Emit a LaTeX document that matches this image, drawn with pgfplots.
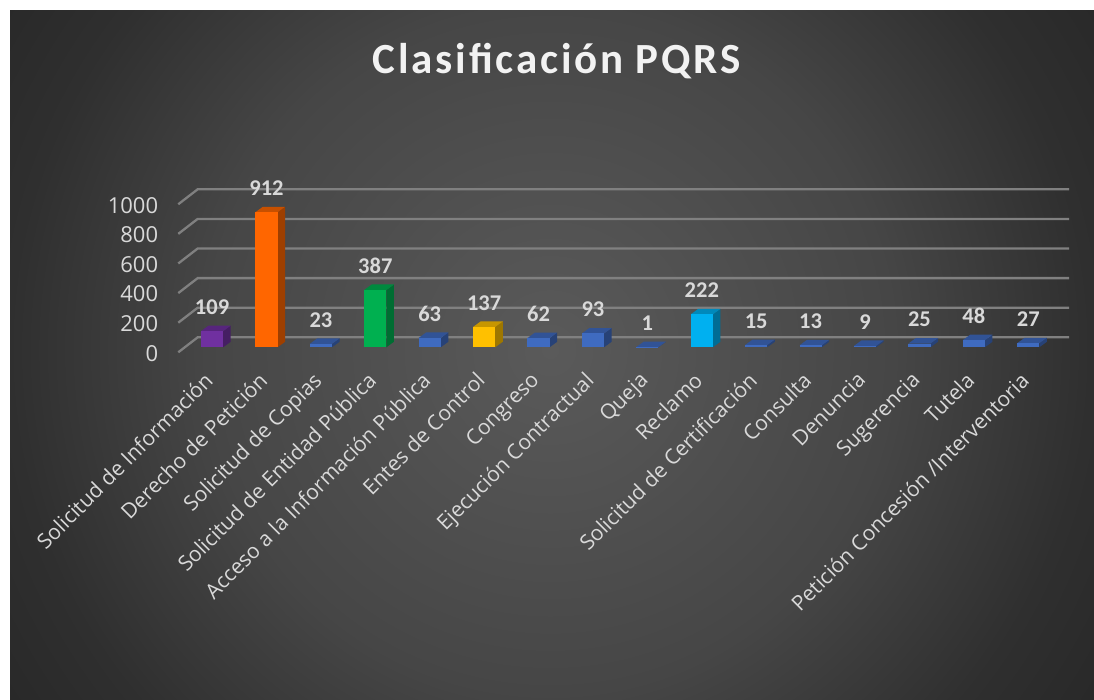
\documentclass[border=0pt]{standalone}
\usepackage{fontspec}
\setmainfont{Carlito}
\newfontfamily\ejes{Open Sans}
\usepackage{pgfplots}
\pgfplotsset{compat=1.18}

\definecolor{morado}{HTML}{7030A0}
\definecolor{naranja}{HTML}{FF6600}
\definecolor{azul}{HTML}{3F6BC0}
\definecolor{verde}{HTML}{00B050}
\definecolor{amarillo}{HTML}{FFC000}
\definecolor{celeste}{HTML}{00B0F0}
\definecolor{rejilla}{HTML}{808080}
\definecolor{texto}{HTML}{D9D9D9}
\definecolor{centro}{HTML}{5A5A5A}
\definecolor{medio}{HTML}{464646}
\definecolor{oscuro}{HTML}{2F2F2F}
\definecolor{borde}{HTML}{282828}

% the path's half side is 25bp of the shading
\pgfdeclareradialshading{fondo}{\pgfpoint{0bp}{0bp}}{%
  color(0bp)=(centro); color(13bp)=(medio); color(20.5bp)=(oscuro); color(25bp)=(borde); color(50bp)=(borde)}

% x, value, colour
\newcommand{\caja}[3]{%
  \pgfmathsetmacro\xl{#1-0.204}%
  \pgfmathsetmacro\xr{#1+0.204}%
  \pgfmathsetmacro\xb{#1+0.342}%
  \pgfmathsetmacro\xc{#1-0.066}%
  \pgfmathsetmacro\yt{#2+37}%
  \pgfmathsetmacro\yf{37}%
  \edef\tmp{%
    \noexpand\addplot[fill=#3!62!black, draw=none] coordinates {(\xr,0)(\xb,\yf)(\xb,\yt)(\xr,#2)};
    \noexpand\addplot[fill=#3!78!black, draw=none] coordinates {(\xl,#2)(\xr,#2)(\xb,\yt)(\xc,\yt)};
    \noexpand\addplot[fill=#3, draw=none] coordinates {(\xl,0)(\xr,0)(\xr,#2)(\xl,#2)};
  }\tmp
}
% value of the gridline
\newcommand{\rejilla}[1]{%
  \pgfmathsetmacro\ya{#1-34}%
  \pgfmathsetmacro\yb{#1+67}%
  \edef\tmp{\noexpand\addplot[rejilla, line width=2.3pt] coordinates {(-0.621,\ya)(-0.265,\yb)(15.749,\yb)};}\tmp
}

\begin{document}
\begin{tikzpicture}[x=1pt,y=1pt]
\useasboundingbox (0,0) rectangle (1094,700);
\fill[white] (0,0) rectangle (1094,700);
\begin{scope}
  \clip (10,0) rectangle (1094,689);
  \shade[shading=fondo] (-110,-310) rectangle (1210,1010);
\end{scope}
\begin{axis}[
  at={(178.3pt,347.7pt)}, anchor=south west,
  scale only axis, width=890.7pt, height=163pt,
  xmin=-0.621, xmax=15.749, ymin=-34, ymax=1067,
  clip=false,
  axis line style={draw=none},
  tick style={draw=none},
  xtick={0,...,15},
  xticklabels={Solicitud de Información, Derecho de Petición, Solicitud de Copias,
    Solicitud de Entidad Pública, Acceso a la Información Pública, Entes de Control,
    Congreso, Ejecución Contractual, Queja, Reclamo, Solicitud de Certificación,
    Consulta, Denuncia, Sugerencia, Tutela, Petición Concesión /Interventoria},
  x tick label style={rotate=45, anchor=north east, font=\ejes\fontsize{21}{23}\selectfont,
    text=texto, inner sep=0pt, xshift=-13pt},
  ytick={-34,166,366,566,766,966},
  yticklabels={0,200,400,600,800,1000},
  y tick label style={font=\ejes\fontsize{22}{24}\selectfont, text=texto, inner sep=0pt, yshift=-1pt},
  tick label style={/pgf/number format/assume math mode=true},
  xticklabel shift=9pt,
  yticklabel shift=20pt,
  title={\fontsize{43}{45}\selectfont\bfseries\addfontfeature{LetterSpace=6.5}Clasif{}icación PQRS},
  title style={at={(0.425,1.75)}, anchor=center, text=white!95!black, inner sep=0pt},
]
\rejilla{0}\rejilla{200}\rejilla{400}\rejilla{600}\rejilla{800}\rejilla{1000}
\caja{0}{109}{morado}
\caja{1}{912}{naranja}
\caja{2}{23}{azul}
\caja{3}{387}{verde}
\caja{4}{63}{azul}
\caja{5}{137}{amarillo}
\caja{6}{62}{azul}
\caja{7}{93}{azul}
\caja{8}{1}{azul}
\caja{9}{222}{celeste}
\caja{10}{15}{azul}
\caja{11}{13}{azul}
\caja{12}{9}{azul}
\caja{13}{25}{azul}
\caja{14}{48}{azul}
\caja{15}{27}{azul}
\addplot[draw=none, nodes near coords, point meta=y,
  every node near coord/.style={anchor=center, yshift=24pt, text=texto,
    font=\fontsize{22.5}{24}\selectfont\bfseries, inner sep=0pt,
    /pgf/number format/assume math mode=true}]
  coordinates {(0,109)(1,912)(2,23)(3,387)(4,63)(5,137)(6,62)(7,93)
    (8,1)(9,222)(10,15)(11,13)(12,9)(13,25)(14,48)(15,27)};
\end{axis}
\end{tikzpicture}
\end{document}
